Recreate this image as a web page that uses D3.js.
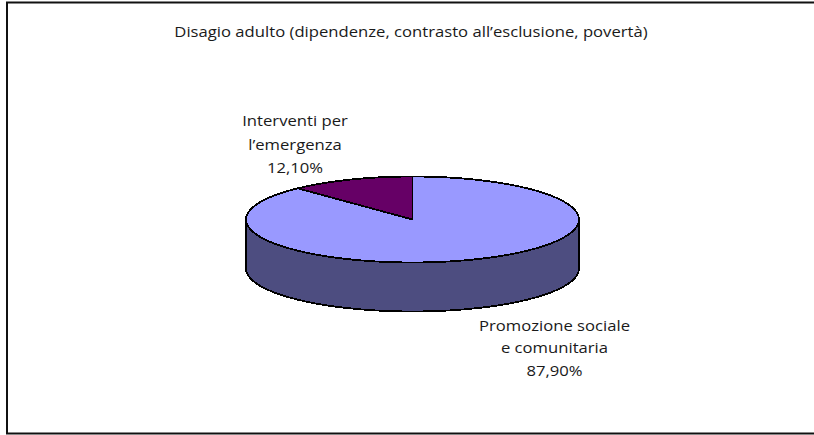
<!DOCTYPE html>
<html><head><meta charset="utf-8">
<script src="https://cdnjs.cloudflare.com/ajax/libs/d3/7.8.5/d3.min.js"></script>
<style>html,body{margin:0;padding:0;background:#fff}svg{display:block}text{font-family:"Open Sans",sans-serif;font-size:14px;fill:#1a1a1a}</style>
</head><body><svg id="c" width="814" height="435"></svg>
<script>
const title = "Disagio adulto (dipendenze, contrasto all\u2019esclusione, povert\u00e0)";
const categories = ["Promozione sociale e comunitaria", "Interventi per l\u2019emergenza"];
const values = [87.9, 12.1];
const valueLabels = ["87,90%", "12,10%"];
const labelLines = [["Promozione sociale", "e comunitaria"], ["Interventi per", "l\u2019emergenza"]];
const topColors = ["#9999ff", "#660066"];
const sideColor = "#4d4d80";

const svg = d3.select("#c");
svg.append("rect").attr("x",7).attr("y",2.5).attr("width",830).attr("height",431)
  .attr("fill","#fff").attr("stroke","#111").attr("stroke-width",2);

const cx=412.5, cy=219.5, rx=166.5, ry=43, depth=49;
const x=d3.scaleLinear().domain([-1,1]).range([cx-rx,cx+rx]);
const y=d3.scaleLinear().domain([-1,1]).range([cy-ry,cy+ry]);
const pie=d3.pie().sort(null).value(d=>d).startAngle(0).endAngle(2*Math.PI);
const arcs=pie(values);

const rim=d3.range(0,181,2).map(a=>{const t=a*Math.PI/180;return [x(Math.cos(t)),y(Math.sin(t))];});
const side=d3.area().x(d=>d[0]).y0(d=>d[1]).y1(d=>d[1]+depth);
svg.append("path").attr("d",side(rim)).attr("fill",sideColor).attr("stroke","#000").attr("stroke-width",1.8).attr("shape-rendering","crispEdges");

const wedge=d=>{
  const n=Math.max(2,Math.ceil((d.endAngle-d.startAngle)/(Math.PI/90)));
  const pts=d3.range(n+1).map(i=>{const a=d.startAngle+(d.endAngle-d.startAngle)*i/n;return [x(Math.sin(a)),y(-Math.cos(a))];});
  return d3.line()([[x(0),y(0)],...pts])+"Z";
};
svg.append("g").selectAll("path").data(arcs).join("path").attr("d",wedge)
  .attr("fill",(d,i)=>topColors[i]).attr("stroke","#000").attr("stroke-width",1.8).attr("stroke-linejoin","round").attr("shape-rendering","crispEdges");

const stretch=1.19;
const put=(s,px,py)=>svg.append("text").attr("text-anchor","middle")
  .attr("transform",`translate(${px},${py}) scale(${stretch},1)`).text(s);

put(title,411,37);

const labelX=[554.5,295];
const labelY=[[331,353,376],[126,150,173]];
arcs.forEach((d,i)=>{
  [...labelLines[i],valueLabels[i]].forEach((s,k)=>put(s,labelX[i],labelY[i][k]));
});
</script></body></html>
